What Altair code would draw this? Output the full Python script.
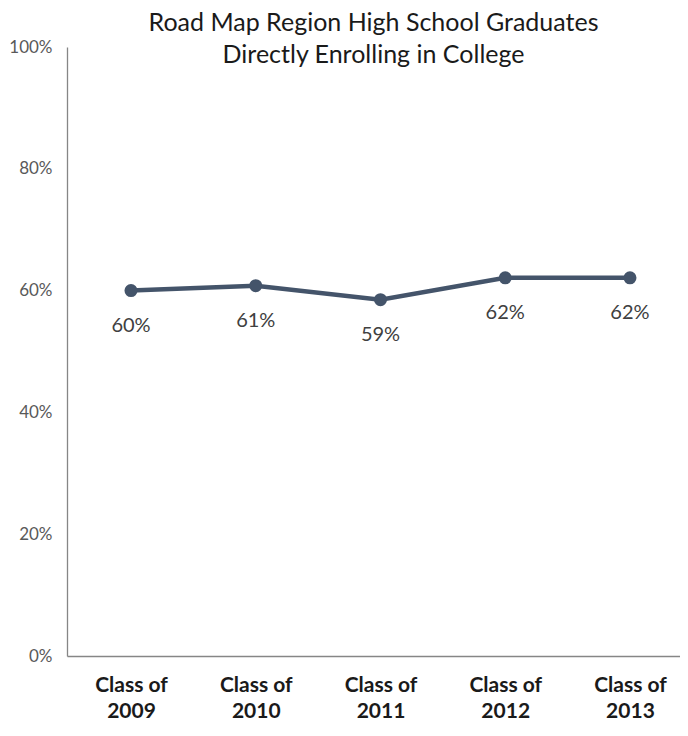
import altair as alt
import pandas as pd

classes = ["Class of 2009", "Class of 2010", "Class of 2011", "Class of 2012", "Class of 2013"]
years = ["2009", "2010", "2011", "2012", "2013"]
rates = [0.60, 0.608, 0.585, 0.621, 0.621]
labels = ["60%", "61%", "59%", "62%", "62%"]

df = pd.DataFrame({"idx": list(range(len(classes))), "cls": classes,
                   "rate": rates, "lbl": labels})

FONT = "Lato"
LINE = "#44546A"

year_arr = "[" + ",".join("'%s'" % y for y in years) + "]"

x = alt.X("idx:Q", title=None,
          scale=alt.Scale(domain=[-0.513, 4.401], nice=False, zero=False),
          axis=alt.Axis(values=list(range(len(classes))), ticks=False, tickSize=0,
                        grid=False, domainColor="#868686", domainWidth=1.3,
                        labelFont=FONT, labelFontSize=21, labelFontWeight="bold",
                        labelColor="#1a1a1a", labelPadding=18, labelLineHeight=26,
                        labelFlush=False, labelOverlap=False, labelBound=False,
                        labelExpr="['Class of', " + year_arr + "[datum.value]]"))
y = alt.Y("rate:Q", title=None,
          scale=alt.Scale(domain=[0, 1]),
          axis=alt.Axis(values=[0, 0.2, 0.4, 0.6, 0.8, 1.0], format=".0%", ticks=False,
                        tickSize=0, grid=False, domainColor="#868686", domainWidth=1.3,
                        labelFont=FONT, labelFontSize=17, labelColor="#595959",
                        labelPadding=15))

base = alt.Chart(df).encode(x=x, y=y)

line = base.mark_line(color=LINE, strokeWidth=4.5)
pts = base.mark_point(filled=True, color=LINE, size=170, opacity=1)
txt = base.mark_text(dy=35, font=FONT, fontSize=20, color="#404040").encode(text="lbl:N")

chart = alt.layer(line, pts, txt).properties(
    width=613, height=609,
    title=alt.TitleParams(
        ["Road Map Region High School Graduates", "Directly Enrolling in College"],
        anchor="middle", font=FONT, fontSize=25, fontWeight="normal", color="#1a1a1a",
        baseline="alphabetic", offset=9, dy=59, lineHeight=32),
    autosize=alt.AutoSizeParams(type="none"),
    padding={"left": 59, "top": 39, "right": 0, "bottom": 66},
).configure_view(stroke=None)

chart.save("out.html", embed_options={"renderer": "svg", "actions": False})
